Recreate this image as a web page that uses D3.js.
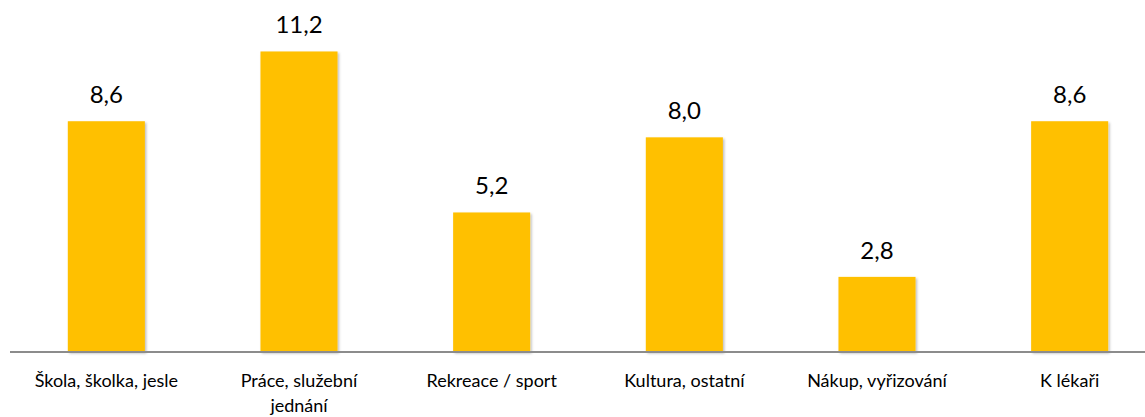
<!DOCTYPE html>
<html>
<head>
<meta charset="utf-8">
<script src="https://cdn.jsdelivr.net/npm/d3@7"></script>
<style>
  html, body { margin: 0; padding: 0; background: #fff; }
  svg { display: block; }
</style>
</head>
<body>
<div id="chart"></div>
<script>
(function () {
  const WIDTH = 1145;
  const HEIGHT = 417;
  const FONT = "Lato, 'Open Sans', sans-serif";

  const categories = [
    "Škola, školka, jesle",
    "Práce, služební jednání",
    "Rekreace / sport",
    "Kultura, ostatní",
    "Nákup, vyřizování",
    "K lékaři"
  ];
  const values = [8.6, 11.2, 5.2, 8.0, 2.8, 8.6];

  const svg = d3.select("#chart").append("svg")
    .attr("width", WIDTH)
    .attr("height", HEIGHT);

  // soft shadow like the office chart bars
  const defs = svg.append("defs");
  const shadow = defs.append("filter").attr("id", "shadow")
    .attr("x", "-10%").attr("y", "-10%").attr("width", "130%").attr("height", "130%");
  shadow.append("feDropShadow")
    .attr("dx", 1.5).attr("dy", 1.5).attr("stdDeviation", 1.2)
    .attr("flood-color", "#000").attr("flood-opacity", 0.25);

  const x = d3.scaleBand()
    .domain(categories)
    .range([10, 1166])
    .paddingInner(0.6)
    .paddingOuter(0.3);

  const y = d3.scaleLinear()
    .domain([0, 12])
    .range([352, 30]);

  svg.append("g").selectAll("rect")
    .data(values)
    .join("rect")
    .attr("x", (d, i) => x(categories[i]))
    .attr("y", d => y(d))
    .attr("width", x.bandwidth())
    .attr("height", d => y(0) - y(d))
    .attr("fill", "#FFC000")
    .attr("filter", "url(#shadow)");

  svg.append("g").selectAll("text")
    .data(values)
    .join("text")
    .attr("x", (d, i) => x(categories[i]) + x.bandwidth() / 2)
    .attr("y", d => y(d) - 18)
    .attr("text-anchor", "middle")
    .attr("font-family", FONT)
    .attr("font-size", "24px")
    .attr("fill", "#000")
    .text(d => d.toFixed(1).replace(".", ","));

  // axis: horizontal line plus wrapped category labels
  const axis = svg.append("g")
    .attr("transform", `translate(0,${y(0)})`)
    .call(d3.axisBottom(x).tickSize(0).tickPadding(0));
  axis.select(".domain")
    .attr("d", `M10,0H${WIDTH}`)
    .attr("stroke", "#8c8c8c")
    .attr("stroke-width", 2);
  axis.selectAll(".tick text")
    .attr("font-family", FONT)
    .attr("font-size", "18px")
    .attr("fill", "#000")
    .attr("y", 35)
    .attr("dy", 0)
    .call(wrap, 165);

  function wrap(texts, width) {
    texts.each(function () {
      const text = d3.select(this);
      const words = text.text().split(/\s+/);
      const tx = text.attr("x") || 0;
      const ty = text.attr("y");
      text.text(null);
      let line = [];
      let lineNo = 0;
      let tspan = text.append("tspan").attr("x", tx).attr("y", ty);
      words.forEach(w => {
        line.push(w);
        tspan.text(line.join(" "));
        if (tspan.node().getComputedTextLength() > width && line.length > 1) {
          line.pop();
          tspan.text(line.join(" "));
          line = [w];
          lineNo++;
          tspan = text.append("tspan").attr("x", tx).attr("y", +ty + lineNo * 25).text(w);
        }
      });
    });
  }
})();
</script>
</body>
</html>
